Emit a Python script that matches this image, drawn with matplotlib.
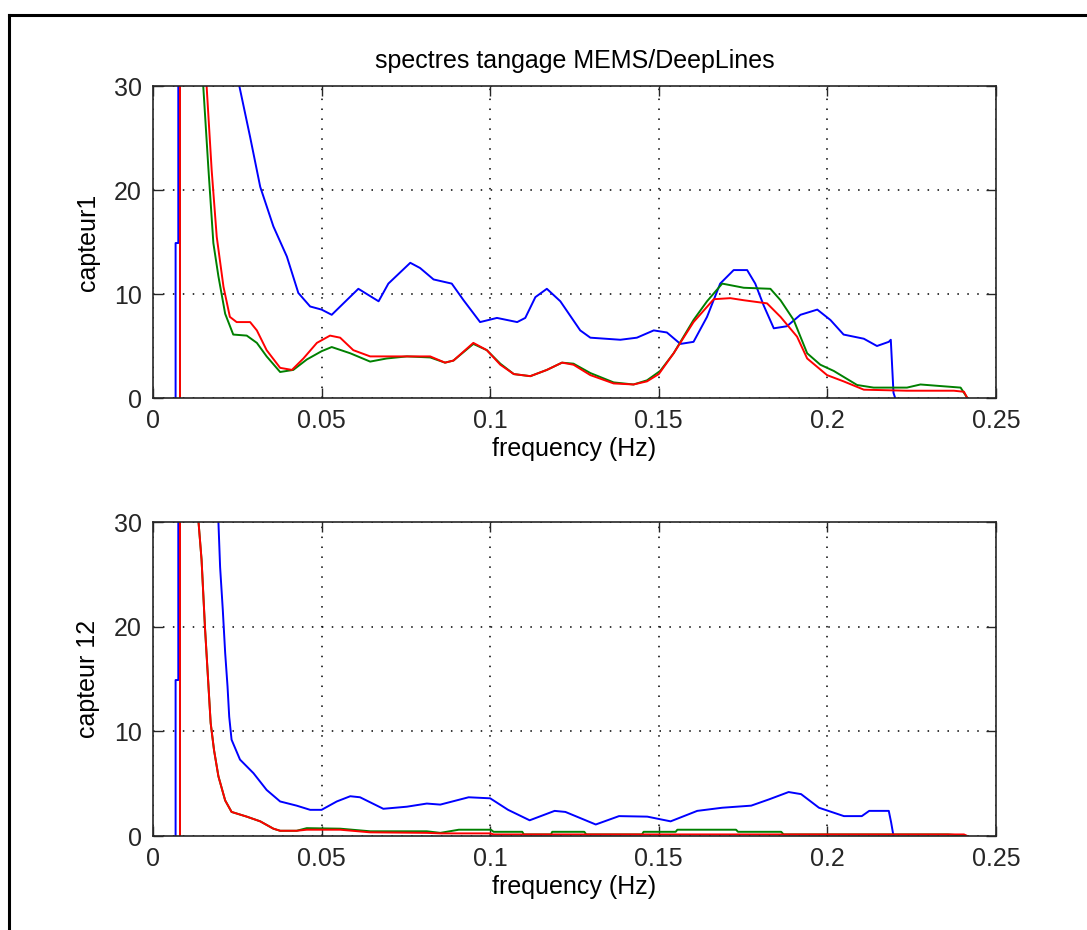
import matplotlib
matplotlib.use('Agg')
import matplotlib.pyplot as plt
from matplotlib.lines import Line2D

OUTPUT_FILENAME = 'out.png'
W, H = 1087, 930

TITLE = 'spectres tangage MEMS/DeepLines'
XLABEL = 'frequency (Hz)'
YLABELS = ['capteur1', 'capteur 12']
XTICKS = [0, 0.05, 0.1, 0.15, 0.2, 0.25]
XTICKLABELS = ['0', '0.05', '0.1', '0.15', '0.2', '0.25']
YTICKS = [0, 10, 20, 30]
YTICKLABELS = ['0', '10', '20', '30']

# capteur1 (top panel)
f_blue_1 = [0.0067, 0.0067, 0.0075, 0.0075, 0.012, 0.020, 0.0256, 0.0288, 0.0318, 0.0357,
            0.0397, 0.0431, 0.0466, 0.0500, 0.0530, 0.0609, 0.0669, 0.0698, 0.0763, 0.0792,
            0.0832, 0.0886, 0.0921, 0.0970, 0.1020, 0.1080, 0.1104, 0.1134, 0.1168, 0.1208,
            0.1267, 0.1297, 0.1386, 0.1435, 0.1485, 0.1524, 0.1564, 0.1603, 0.1643, 0.1682,
            0.1722, 0.1762, 0.1786, 0.1811, 0.1841, 0.1880, 0.1920, 0.1970, 0.2009, 0.2048,
            0.2108, 0.2147, 0.2182, 0.2188, 0.2196, 0.2201]
v_blue_1 = [0, 14.9, 14.9, 400, 400, 60, 30, 25.1, 20.3, 16.5,
            13.6, 10.1, 8.8, 8.5, 8.0, 10.5, 9.3, 11.0, 13.0, 12.5,
            11.4, 11.0, 9.4, 7.3, 7.7, 7.3, 7.7, 9.7, 10.5, 9.3,
            6.5, 5.8, 5.6, 5.8, 6.5, 6.3, 5.2, 5.4, 7.8, 11.0,
            12.3, 12.3, 11.0, 8.9, 6.7, 6.9, 8.0, 8.5, 7.5, 6.1,
            5.7, 5.0, 5.4, 5.6, 0.5, 0.0]

f_green_1 = [0.008, 0.008, 0.011, 0.0149, 0.0164, 0.0179, 0.0194, 0.0214, 0.0238, 0.0278,
             0.0308, 0.0337, 0.0377, 0.0416, 0.0456, 0.0500, 0.0530, 0.0585, 0.0644, 0.0693,
             0.0753, 0.0822, 0.0866, 0.0891, 0.0950, 0.0990, 0.1030, 0.1070, 0.1119, 0.1168,
             0.1213, 0.1247, 0.1297, 0.1366, 0.1425, 0.1465, 0.1504, 0.1544, 0.1603, 0.1643,
             0.1688, 0.1752, 0.1831, 0.1861, 0.1900, 0.1940, 0.1979, 0.2019, 0.2088, 0.2137,
             0.2236, 0.2276, 0.2335, 0.2395, 0.2415]
v_green_1 = [0, 400, 400, 30, 22.2, 14.9, 11.7, 8.1, 6.1, 6.0,
             5.3, 4.0, 2.5, 2.7, 3.7, 4.5, 4.9, 4.3, 3.5, 3.8,
             4.0, 3.9, 3.4, 3.6, 5.2, 4.6, 3.3, 2.3, 2.1, 2.7,
             3.4, 3.3, 2.4, 1.5, 1.3, 1.7, 2.6, 4.3, 7.5, 9.3,
             11.0, 10.6, 10.5, 9.4, 7.5, 4.3, 3.2, 2.6, 1.25, 1.0,
             1.0, 1.3, 1.15, 1.0, 0.0]

f_red_1 = [0.008, 0.008, 0.012, 0.0159, 0.0174, 0.0189, 0.0209, 0.0228, 0.0248, 0.0288,
           0.0308, 0.0337, 0.0377, 0.0412, 0.0446, 0.0486, 0.0525, 0.0555, 0.0594, 0.0644,
           0.0753, 0.0822, 0.0866, 0.0891, 0.0950, 0.0990, 0.1030, 0.1070, 0.1119, 0.1168,
           0.1213, 0.1247, 0.1297, 0.1366, 0.1425, 0.1465, 0.1500, 0.1544, 0.1603, 0.1663,
           0.1712, 0.1752, 0.1821, 0.1861, 0.1910, 0.1940, 0.1999, 0.2048, 0.2108, 0.2236,
           0.2375, 0.2405, 0.2415]
v_red_1 = [0, 400, 400, 30, 21.9, 15.5, 10.7, 7.8, 7.3, 7.3,
           6.5, 4.6, 2.9, 2.7, 3.8, 5.3, 6.0, 5.8, 4.6, 4.0,
           4.0, 4.0, 3.4, 3.6, 5.3, 4.6, 3.2, 2.3, 2.1, 2.7,
           3.4, 3.2, 2.2, 1.4, 1.3, 1.6, 2.3, 4.3, 7.3, 9.5,
           9.6, 9.4, 9.1, 7.8, 5.9, 3.8, 2.2, 1.6, 0.8, 0.7,
           0.7, 0.6, 0.0]

# capteur 12 (bottom panel)
f_blue_2 = [0.0067, 0.0067, 0.0075, 0.0075, 0.012, 0.0175, 0.0194, 0.0199, 0.0207, 0.0214,
            0.0221, 0.0226, 0.0233, 0.0258, 0.0298, 0.0337, 0.0377, 0.0426, 0.0466, 0.0500,
            0.0545, 0.0585, 0.0614, 0.0683, 0.0753, 0.0812, 0.0852, 0.0936, 0.1000, 0.1053,
            0.1117, 0.1191, 0.1223, 0.1313, 0.1382, 0.1466, 0.1535, 0.1614, 0.1688, 0.1774,
            0.1827, 0.1885, 0.1922, 0.1975, 0.2049, 0.2102, 0.2124, 0.2182, 0.2189, 0.2196]
v_blue_2 = [0, 14.9, 14.9, 400, 400, 60, 30, 25.7, 21.6, 17.5,
            14.3, 11.4, 9.2, 7.3, 6.0, 4.4, 3.3, 2.9, 2.5, 2.5,
            3.3, 3.8, 3.7, 2.6, 2.8, 3.1, 3.0, 3.7, 3.6, 2.5,
            1.5, 2.4, 2.3, 1.1, 1.9, 1.85, 1.4, 2.4, 2.7, 2.9,
            3.5, 4.2, 4.0, 2.7, 1.9, 1.9, 2.4, 2.4, 1.3, 0.0]

f_green_2 = [0.008, 0.008, 0.011, 0.0135, 0.0144, 0.0154, 0.0164, 0.0171, 0.0181, 0.0194,
             0.0214, 0.0233, 0.0278, 0.0318, 0.0357, 0.0377, 0.0426, 0.0456, 0.0555, 0.0644,
             0.0812, 0.0852, 0.0907, 0.1002, 0.1010, 0.1095, 0.1100, 0.1180, 0.1184, 0.1279,
             0.1285, 0.1450, 0.1455, 0.1550, 0.1555, 0.1729, 0.1735, 0.1863, 0.1870, 0.2358,
             0.2415]
v_green_2 = [0, 400, 400, 30, 26.4, 20.0, 14.6, 10.8, 8.2, 5.7,
             3.4, 2.3, 1.85, 1.4, 0.7, 0.5, 0.5, 0.75, 0.7, 0.45,
             0.45, 0.3, 0.6, 0.6, 0.4, 0.4, 0.15, 0.15, 0.4, 0.4,
             0.15, 0.15, 0.4, 0.4, 0.6, 0.6, 0.4, 0.4, 0.15, 0.15,
             0.0]

f_red_2 = [0.008, 0.008, 0.011, 0.0135, 0.0144, 0.0154, 0.0164, 0.0171, 0.0181, 0.0194,
           0.0214, 0.0233, 0.0278, 0.0318, 0.0357, 0.0377, 0.0426, 0.0456, 0.0555, 0.0644,
           0.0812, 0.0852, 0.1000, 0.1010, 0.2405, 0.2415]
v_red_2 = [0, 400, 400, 30, 26.4, 20.0, 14.6, 10.8, 8.2, 5.7,
           3.4, 2.3, 1.85, 1.4, 0.7, 0.5, 0.5, 0.6, 0.6, 0.35,
           0.3, 0.25, 0.25, 0.15, 0.15, 0.0]

PANELS = [
    [(f_blue_1, v_blue_1), (f_green_1, v_green_1), (f_red_1, v_red_1)],
    [(f_blue_2, v_blue_2), (f_green_2, v_green_2), (f_red_2, v_red_2)],
]
COLORS = ['#0000ff', '#008000', '#ff0000']

plt.rcParams['font.family'] = ['Liberation Sans', 'DejaVu Sans']
FONT_SIZE = 18


def style_axes(ax, ylabel):
    ax.set_xlim(0, 0.25)
    ax.set_ylim(0, 30)
    ax.set_xticks(XTICKS)
    ax.set_xticklabels(XTICKLABELS)
    ax.set_yticks(YTICKS)
    ax.set_yticklabels(YTICKLABELS)
    ax.tick_params(direction='in', top=True, right=True, length=7, width=1,
                   labelsize=FONT_SIZE, pad=8, colors='#262626')
    ax.grid(True, color='black', linestyle=(0, (1, 5.5)), linewidth=1.1)
    for spine in ax.spines.values():
        spine.set_linewidth(1.2)
        spine.set_color('#262626')
    ax.set_xlabel(XLABEL, fontsize=FONT_SIZE, labelpad=3)
    ax.set_ylabel(ylabel, fontsize=FONT_SIZE, labelpad=10)


def plot_panel(ax, curves):
    for (f, v), color in zip(curves, COLORS):
        ax.plot(f, v, color=color, linewidth=1.4)


def main():
    fig = plt.figure(figsize=(W / 100, H / 100), dpi=100, facecolor='white')
    boxes = [(153, 86, 996, 398), (153, 522, 996, 836)]

    for index, (x0, y0, x1, y1) in enumerate(boxes):
        ax = fig.add_axes([x0 / W, 1 - y1 / H, (x1 - x0) / W, (y1 - y0) / H])
        plot_panel(ax, PANELS[index])
        style_axes(ax, YLABELS[index])
        if index == 0:
            ax.set_title(TITLE, fontsize=FONT_SIZE, pad=13)

    # window frame of the screenshot
    fig.add_artist(Line2D([9 / W, 1], [1 - 15 / H, 1 - 15 / H],
                          transform=fig.transFigure, color='black', linewidth=2.2))
    fig.add_artist(Line2D([9 / W, 9 / W], [0, 1 - 15 / H],
                          transform=fig.transFigure, color='black', linewidth=2.2))

    fig.savefig(OUTPUT_FILENAME, dpi=100, facecolor=fig.get_facecolor())
    plt.close('all')


if __name__ == "__main__":
    main()
